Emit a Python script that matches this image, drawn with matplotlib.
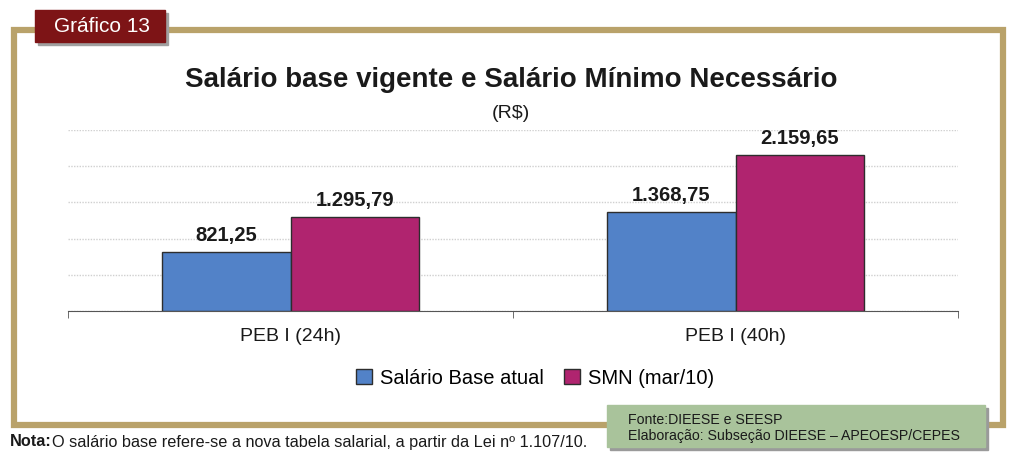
import numpy as np
import matplotlib.pyplot as plt
from matplotlib.patches import Rectangle

plt.rcParams['font.family'] = ['Liberation Sans', 'DejaVu Sans']

categories = ['PEB I (24h)', 'PEB I (40h)']
series_names = ['Salário Base atual', 'SMN (mar/10)']
salario_base = [821.25, 1368.75]
smn = [1295.79, 2159.65]
value_labels = [['821,25', '1.368,75'], ['1.295,79', '2.159,65']]

blue = '#5282c8'
magenta = '#b0246f'
gold = '#b9a26a'

fig = plt.figure(figsize=(10.23, 4.66), dpi=100)

# outer gold frame
fig.patches.append(Rectangle((14 / 1023, 1 - 425 / 466), 989 / 1023, 395 / 466,
                             transform=fig.transFigure, fill=False,
                             edgecolor=gold, linewidth=4.5, zorder=0))

ax = fig.add_axes([68 / 1023, 155 / 466, 890 / 1023, 181 / 466])
x = np.arange(len(categories))
w = 0.288
bars1 = ax.bar(x - w / 2, salario_base, w, color=blue, edgecolor='#2d2d2d',
               linewidth=1, label=series_names[0], zorder=3)
bars2 = ax.bar(x + w / 2, smn, w, color=magenta, edgecolor='#2d2d2d',
               linewidth=1, label=series_names[1], zorder=3)

for bars, labels in zip([bars1, bars2], value_labels):
    for b, t in zip(bars, labels):
        ax.text(b.get_x() + b.get_width() / 2, b.get_height() + 95, t,
                ha='center', va='bottom', fontsize=14.5, fontweight='bold',
                color='#1a1a1a')

ax.set_xlim(-0.5, 1.5)
ax.set_ylim(0, 2500)
ax.set_yticks(np.arange(0, 2501, 500))
ax.yaxis.grid(True, linestyle=(0, (1, 1)), color='#d0d0d0', linewidth=1)
ax.set_yticklabels([])
ax.tick_params(axis='y', length=0)
ax.set_xticks(x)
ax.set_xticklabels(categories, fontsize=14, color='#1a1a1a')
ax.tick_params(axis='x', length=0, pad=12)
ax.set_xticks([-0.5, 0.5, 1.5], minor=True)
ax.tick_params(axis='x', which='minor', length=5, color='#555555')
for s in ['top', 'right', 'left']:
    ax.spines[s].set_visible(False)
ax.spines['bottom'].set_color('#555555')

fig.text(511 / 1023, 1 - 80 / 466, 'Salário base vigente e Salário Mínimo Necessário',
         ha='center', va='center', fontsize=20, fontweight='bold', color='#1a1a1a')
fig.text(511 / 1023, 1 - 113 / 466, '(R$)', ha='center', va='center',
         fontsize=14, color='#1a1a1a')

ax.legend(loc='center', bbox_to_anchor=(0.525, (466 - 378 - 155) / 181),
          ncol=2, frameon=False, fontsize=14.5, handlelength=0.8,
          handleheight=0.8, handletextpad=0.4, columnspacing=1.0)

# "Gráfico 13" tab
fig.patches.append(Rectangle((38 / 1023, 1 - 45 / 466), 130 / 1023, 32 / 466,
                             transform=fig.transFigure, color='#a0a0a0', zorder=4))
fig.patches.append(Rectangle((35 / 1023, 1 - 42 / 466), 130 / 1023, 32 / 466,
                             transform=fig.transFigure, color='#7d1416', zorder=5))
fig.text(102 / 1023, 1 - 27 / 466, 'Gráfico 13', ha='center', va='center',
         fontsize=15, color='white', zorder=6)

# source box
fig.patches.append(Rectangle((610 / 1023, 1 - 450 / 466), 378 / 1023, 42 / 466,
                             transform=fig.transFigure, color='#9a9a9a', zorder=4))
fig.patches.append(Rectangle((607 / 1023, 1 - 447 / 466), 378 / 1023, 42 / 466,
                             transform=fig.transFigure, color='#a9c39b', zorder=5))
fig.text(628 / 1023, 1 - 420 / 466, 'Fonte:DIEESE e SEESP', ha='left', va='center',
         fontsize=10.2, color='#1a1a1a', zorder=6)
fig.text(628 / 1023, 1 - 436 / 466, 'Elaboração: Subseção DIEESE – APEOESP/CEPES',
         ha='left', va='center', fontsize=10.2, color='#1a1a1a', zorder=6)

fig.text(10 / 1023, 1 - 442 / 466, 'Nota:', ha='left', va='center',
         fontsize=11.7, fontweight='bold', color='#1a1a1a')
fig.text(52 / 1023, 1 - 442 / 466,
         'O salário base refere-se a nova tabela salarial, a partir da Lei nº 1.107/10.',
         ha='left', va='center', fontsize=11.7, color='#1a1a1a')

fig.savefig('out.png', dpi=100)
